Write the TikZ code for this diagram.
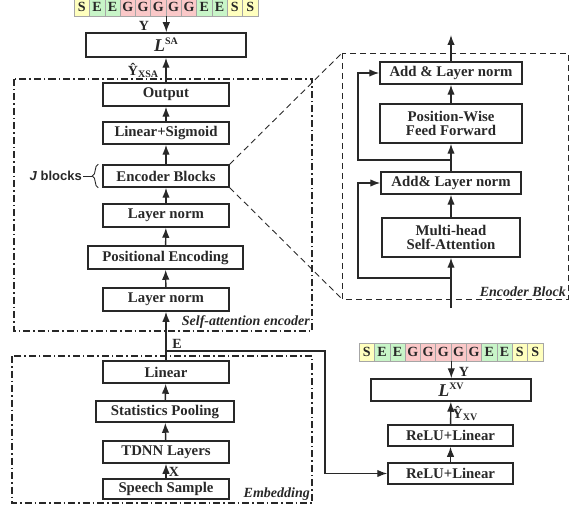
\documentclass[tikz,border=0pt]{standalone}
\usepackage{fontspec}
\setmainfont{Liberation Serif}
\setsansfont{Liberation Sans}
\usetikzlibrary{arrows.meta,positioning,decorations.pathreplacing}
\definecolor{sCol}{RGB}{255,255,190}
\definecolor{eCol}{RGB}{200,245,200}
\definecolor{gCol}{RGB}{250,200,200}
\definecolor{lineCol}{RGB}{40,40,40}
\tikzstyle{Block} = [draw=lineCol, line width=1.5pt, rectangle, minimum height=22pt, minimum width=126pt, inner sep=1pt, font=\fontsize{14.8}{16}\selectfont\bfseries, text=lineCol, align=center]
\tikzstyle{Cell} = [draw=gray!70, line width=0.6pt, minimum width=15.3pt, minimum height=18pt, inner sep=0pt, font=\fontsize{14}{14}\selectfont\bfseries, text=lineCol]
\tikzstyle{Label} = [font=\fontsize{14}{16}\selectfont\bfseries, text=lineCol, inner sep=0.5pt]
\tikzstyle{Title} = [font=\fontsize{14}{16}\selectfont\bfseries\itshape, text=lineCol, inner sep=1pt]
\tikzstyle{Arrow} = [-{Latex[length=10pt,width=7.5pt]}, line width=1.4pt, draw=lineCol]
\tikzstyle{Frame} = [line width=1.1pt, draw=lineCol, dash pattern=on 7pt off 3pt on 1.5pt off 3pt]
\tikzstyle{Zoom} = [line width=0.9pt, draw=lineCol, dash pattern=on 6pt off 4pt]
\newcommand{\lossname}[1]{{\fontsize{18}{18}\selectfont\itshape L}\raisebox{7pt}{\fontsize{10}{10}\selectfont #1}}
\newcommand{\predname}[1]{\^{Y}\raisebox{-2pt}{\fontsize{10}{10}\selectfont #1}}

\begin{document}
\begin{tikzpicture}[x=1pt, y=-1pt]
    \useasboundingbox (0,0) rectangle (579,508);

    % label sequences
    \foreach \l/\c [count=\i] in {S/sCol,E/eCol,E/eCol,G/gCol,G/gCol,G/gCol,G/gCol,G/gCol,E/eCol,E/eCol,S/sCol,S/sCol} {
        \node[Cell, fill=\c] (seqa-\i) at ({74.2+15.3*(\i-0.5)}, 7) {\l};
        \node[Cell, fill=\c] (seqb-\i) at ({359.2+15.3*(\i-0.5)}, 352) {\l};
    }

    % self-attention branch
    \node[Block, minimum width=160pt, minimum height=24pt] (lsa) at (166,45) {\lossname{SA}};
    \node[Block, minimum height=23pt] (output) at (166,94.5) {Output};
    \node[Block] (linsig) at (166,133) {Linear+Sigmoid};
    \node[Block] (encb)   at (166,176) {Encoder Blocks};
    \node[Block, minimum height=23pt] (lnb) at (166,215.5) {Layer norm};
    \node[Block, minimum width=155pt, minimum height=23pt] (posenc) at (165.5,257.5) {Positional Encoding};
    \node[Block, minimum height=23pt] (lna) at (166,299.5) {Layer norm};

    % embedding
    \node[Block] (linear)   at (166,372) {Linear};
    \node[Block, minimum width=138pt, minimum height=21pt] (statpool) at (165,411.5) {Statistics Pooling};
    \node[Block] (tdnn)     at (166,452) {TDNN Layers};
    \node[Block, minimum height=20pt] (speech) at (166,489) {Speech Sample};

    % encoder block
    \node[Block, minimum width=142pt] (addb) at (451,73) {Add \& Layer norm};
    \node[Block, minimum width=142pt, minimum height=39pt] (ffn) at (451,123.5) {Position-Wise\\[-2pt]Feed Forward};
    \node[Block, minimum width=140pt] (adda) at (451,183) {Add\& Layer norm};
    \node[Block, minimum width=138pt, minimum height=39pt] (mha) at (451,237.5) {Multi-head\\[-2pt]Self-Attention};

    % xv branch
    \node[Block, minimum width=160pt] (lxv) at (451,390) {\lossname{XV}};
    \node[Block, minimum width=125pt, minimum height=21pt] (relub) at (450.5,435.5) {ReLU+Linear};
    \node[Block, minimum width=125pt, minimum height=21pt] (relua) at (450.5,473.5) {ReLU+Linear};

    % frames
    \coordinate (satl) at (14,79);
    \coordinate (sabr) at (312,331);
    \coordinate (emtl) at (12,356);
    \coordinate (embr) at (312,503);
    \coordinate (ebtl) at (342,53);
    \coordinate (ebbr) at (568,299);
    \draw[Frame] (satl) rectangle (sabr);
    \draw[Frame] (emtl) rectangle (embr);
    \draw[Zoom] (ebtl) rectangle (ebbr);
    \draw[Zoom] (encb.north east) -- (ebtl);
    \draw[Zoom] (encb.south east) -- (ebtl |- ebbr);
    \node[Title, anchor=south east] (satitle) at (311,330) {Self-attention encoder};
    \node[Title, anchor=south east] (ebtitle) at (567,298) {Encoder Block};
    \node[Title, anchor=south east] (emtitle) at (311,502) {Embedding};

    % J blocks brace
    \draw[line width=0.9pt, draw=lineCol, decorate, decoration={brace, amplitude=6pt}]
        ([xshift=-4pt]encb.south west) -- ([xshift=-4pt]encb.north west);
    \coordinate (jtip) at ([xshift=-10pt]encb.west);
    \node[font=\fontsize{13}{14}\selectfont\sffamily\bfseries, text=lineCol, anchor=east, inner sep=1pt] (jblocks) at (83,176) {\textit{J} blocks};
    \draw[line width=0.9pt, draw=lineCol] (jblocks) -- (jtip);

    % main arrows
    \draw[Arrow] (speech) -- (tdnn);
    \draw[Arrow] (tdnn) -- (statpool);
    \draw[Arrow] (statpool) -- (linear);
    \draw[Arrow] (linear) -- (lna);
    \draw[Arrow] (lna) -- (posenc);
    \draw[Arrow] (posenc) -- (lnb);
    \draw[Arrow] (lnb) -- (encb);
    \draw[Arrow] (encb) -- (linsig);
    \draw[Arrow] (linsig) -- (output);
    \draw[Arrow] (output) -- (lsa);
    \draw[Arrow] (seqa-6.south east) -- (seqa-6.south east |- lsa.north);

    % E branch
    \coordinate (ebr) at (166,351);
    \draw[Arrow] (ebr) -- ++(159,0) |- (relua.west);
    \draw[Arrow] (relua) -- (relub);
    \draw[Arrow] (relub) -- (lxv);
    \draw[Arrow] (seqb-6.south east) -- (seqb-6.south east |- lxv.north);

    % encoder block arrows
    \coordinate (ebin) at (451,308);
    \coordinate (ebout) at (451,35);
    \coordinate (skipa) at (451,278);
    \coordinate (skipb) at (451,160);
    \draw[Arrow] (ebin) -- (mha);
    \draw[Arrow] (mha) -- (adda);
    \draw[Arrow] (adda) -- (ffn);
    \draw[Arrow] (ffn) -- (addb);
    \draw[Arrow] (addb) -- (ebout);
    \draw[Arrow] (skipa) -- ++(-93,0) |- (adda.west);
    \draw[Arrow] (skipb) -- ++(-93,0) |- (addb.west);

    % labels
    \node[Label] (ya) at (144,26) {Y};
    \node[Label] (yhsa) at (143,70) {\predname{XSA}};
    \node[Label] (elab) at (177,344) {E};
    \node[Label] (xlab) at (174,472) {X};
    \node[Label] (yb) at (464,372) {Y};
    \node[Label] (yhxv) at (465,413) {\predname{XV}};
\end{tikzpicture}
\end{document}
